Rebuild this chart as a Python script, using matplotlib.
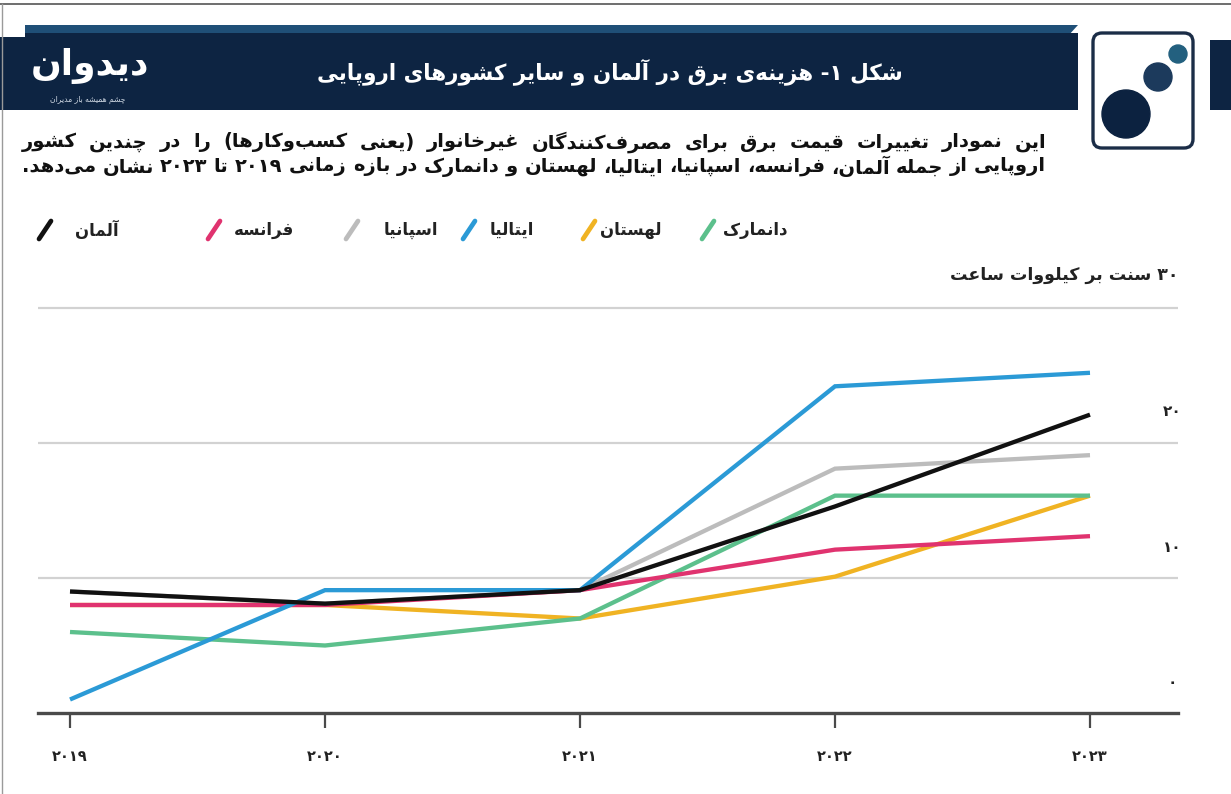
import matplotlib
matplotlib.use('Agg')
import matplotlib.pyplot as plt
import matplotlib.transforms as mtransforms
from matplotlib.patches import Rectangle, FancyBboxPatch, Circle, Polygon
from matplotlib import font_manager
from fontTools.ttLib import TTFont

# ---------------- data ----------------
years = [2019, 2020, 2021, 2022, 2023]
year_labels = ['۲۰۱۹', '۲۰۲۰', '۲۰۲۱', '۲۰۲۲', '۲۰۲۳']
germany = [9.0, 8.1, 9.1, 15.3, 22.1]
france = [8.0, 8.0, 9.1, 12.1, 13.1]
spain = [9.0, 8.1, 9.1, 18.1, 19.1]
italy = [1.0, 9.1, 9.1, 24.2, 25.2]
poland = [8.0, 8.0, 7.0, 10.1, 16.1]
denmark = [6.0, 5.0, 7.0, 16.1, 16.1]
series_names = ['آلمان', 'فرانسه', 'اسپانیا', 'ایتالیا', 'لهستان', 'دانمارک']
series_values = [germany, france, spain, italy, poland, denmark]
series_colors = ['#111111', '#e0336f', '#bcbcbc', '#2b9ad6', '#f0b323', '#5cc08c']
y_ticks = [0, 10, 20, 30]
y_tick_labels = ['۰', '۱۰', '۲۰', '۳۰ سنت بر کیلووات ساعت']

title = 'شکل ۱- هزینه\u200cی برق در آلمان و سایر کشورهای اروپایی'
desc1 = 'این نمودار تغییرات قیمت برق برای مصرف\u200cکنندگان غیرخانوار (یعنی کسب\u200cوکارها) را در چندین کشور'
desc2 = 'اروپایی از جمله آلمان، فرانسه، اسپانیا، ایتالیا، لهستان و دانمارک در بازه زمانی ۲۰۱۹ تا ۲۰۲۳ نشان می\u200cدهد.'
brand = 'دیدوان'
tagline = 'چشم همیشه باز مدیران'

# ---------------- minimal Persian shaping ----------------
def _four(b):
    return (b, b + 1, b + 2, b + 3)

FORMS = {
    '\u0627': (0xFE8D, 0xFE8E, None, None),
    '\u0622': (0xFE81, 0xFE82, None, None),
    '\u0628': _four(0xFE8F), '\u067E': _four(0xFB56), '\u062A': _four(0xFE95),
    '\u062B': _four(0xFE99), '\u062C': _four(0xFE9D), '\u0686': _four(0xFB7A),
    '\u062D': _four(0xFEA1), '\u062E': _four(0xFEA5),
    '\u062F': (0xFEA9, 0xFEAA, None, None), '\u0630': (0xFEAB, 0xFEAC, None, None),
    '\u0631': (0xFEAD, 0xFEAE, None, None), '\u0632': (0xFEAF, 0xFEB0, None, None),
    '\u0698': (0xFB8A, 0xFB8B, None, None),
    '\u0633': _four(0xFEB1), '\u0634': _four(0xFEB5), '\u0635': _four(0xFEB9),
    '\u0636': _four(0xFEBD), '\u0637': _four(0xFEC1), '\u0638': _four(0xFEC5),
    '\u0639': _four(0xFEC9), '\u063A': _four(0xFECD), '\u0641': _four(0xFED1),
    '\u0642': _four(0xFED5), '\u06A9': _four(0xFB8E), '\u06AF': _four(0xFB92),
    '\u0644': _four(0xFEDD), '\u0645': _four(0xFEE1), '\u0646': _four(0xFEE5),
    '\u0647': _four(0xFEE9), '\u0648': (0xFEED, 0xFEEE, None, None),
    '\u06CC': _four(0xFBFC), '\u0626': _four(0xFE89),
}


def _dual(c):
    return c in FORMS and FORMS[c][2] is not None


def shape(word):
    ch = list(word)
    out = []
    i = 0
    n = len(ch)
    while i < n:
        c = ch[i]
        if c not in FORMS:
            if c != '\u200c':
                out.append(c)
            i += 1
            continue
        link_prev = i > 0 and _dual(ch[i - 1])
        if c == '\u0644' and i + 1 < n and ch[i + 1] in ('\u0627', '\u0622'):
            base = 0xFEFB if ch[i + 1] == '\u0627' else 0xFEF5
            out.append(chr(base + (1 if link_prev else 0)))
            i += 2
            continue
        link_next = _dual(c) and i + 1 < n and ch[i + 1] in FORMS
        f = FORMS[c]
        if link_prev and link_next:
            g = f[3]
        elif link_prev:
            g = f[1]
        elif link_next:
            g = f[2]
        else:
            g = f[0]
        out.append(chr(g))
        i += 1
    return out


DIG = set('۰۱۲۳۴۵۶۷۸۹0123456789')
MIRROR = {'(': ')', ')': '('}


def vword(w):
    runs = []
    for c in shape(w):
        if c in DIG and runs and runs[-1][0] == 'd':
            runs[-1][1].append(c)
        elif c in DIG:
            runs.append(['d', [c]])
        else:
            runs.append(['c', [MIRROR.get(c, c)]])
    return ''.join(''.join(r[1]) for r in reversed(runs))


def fa(s):
    return ' '.join(vword(w) for w in reversed(s.split(' ')))


# ---------------- font check ----------------
FAM = 'DejaVu Sans'
path_b = font_manager.findfont(font_manager.FontProperties(family=FAM, weight='bold'))
cmap_b = TTFont(path_b).getBestCmap()
alltext = ''.join(fa(t) for t in [title, desc1, desc2, brand, tagline] + series_names + y_tick_labels + year_labels)
missing = sorted(set(c for c in alltext if ord(c) not in cmap_b and c != ' '))
WEIGHT = 'bold' if not missing else 'normal'

# ---------------- figure ----------------
W, H = 1231, 794
fig = plt.figure(figsize=(W / 100, H / 100), dpi=100)
fig.patch.set_facecolor('white')

# chart axes (pixel geometry)
x_left, x_right = 38, 1178
y_base, y_top = 713, 290
ax = fig.add_axes([x_left / W, (H - y_base) / H, (x_right - x_left) / W, (y_base - y_top) / H])
px_per_year = (1090 - 70) / 4
ax.set_xlim(2019 - (70 - x_left) / px_per_year, 2023 + (x_right - 1090) / px_per_year)
ax.set_ylim(0, (y_base - y_top) / 13.5)

draw_order = [2, 4, 5, 1, 3, 0]
for k in draw_order:
    ax.plot(years, series_values[k], color=series_colors[k], lw=3.1,
            solid_capstyle='butt', solid_joinstyle='miter', zorder=3 + draw_order.index(k))

for s in ['top', 'right', 'left']:
    ax.spines[s].set_visible(False)
ax.spines['bottom'].set_color('#4a4a4a')
ax.spines['bottom'].set_linewidth(2.4)
ax.set_yticks([10, 20, 30])
ax.set_yticklabels([])
ax.tick_params(axis='y', length=0)
ax.grid(axis='y', color='#d2d2d2', lw=1.6)
ax.set_axisbelow(True)
ax.set_xticks(years)
ax.set_xticklabels(year_labels, fontsize=10.5, fontweight=WEIGHT, family=FAM, color='#222222')
ax.tick_params(axis='x', length=11, width=1.6, color='#4a4a4a', pad=15, direction='out')

blend = mtransforms.blended_transform_factory(ax.transAxes, ax.transData)
lab_tr = mtransforms.offset_copy(blend, fig=fig, x=0, y=31, units='dots')
for v, lab in zip(y_ticks, y_tick_labels):
    if v == 30:
        ax.text(1.0, v, fa(lab), transform=mtransforms.offset_copy(blend, fig=fig, x=0, y=33, units='dots'),
                ha='right', va='center', fontsize=12.5, fontweight=WEIGHT, family=FAM, color='#222222')
    else:
        ax.text(0.9947, v, fa(lab), transform=lab_tr, ha='center', va='center',
                fontsize=11, fontweight=WEIGHT, family=FAM, color='#222222')

# overlay axes in pixel coordinates
ov = fig.add_axes([0, 0, 1, 1], zorder=10)
ov.set_xlim(0, W)
ov.set_ylim(H, 0)
ov.axis('off')
ov.patch.set_alpha(0)

# frame lines
ov.plot([0, W], [4, 4], color='#555555', lw=1.2)
ov.plot([2, 2], [4, H], color='#9a9a9a', lw=1.0)

# header band
navy = '#0d2442'
ov.add_patch(Polygon([[25, 25], [1078, 25], [1068, 36], [25, 36]], closed=True, color='#1f4f77', lw=0))
ov.add_patch(Rectangle((0, 33), 1078, 77, color=navy, lw=0))
ov.add_patch(Rectangle((0, 29), 25, 8, color='white', lw=0))
ov.add_patch(Rectangle((1210, 40), 21, 70, color=navy, lw=0))

# logo box
ov.add_patch(FancyBboxPatch((1093, 33), 100, 115, boxstyle='round,pad=0,rounding_size=9',
                            facecolor='white', edgecolor='#1b2d47', lw=2.4))
ov.add_patch(Circle((1126, 114), 24, color='#0c2240'))
ov.add_patch(Circle((1158, 77), 14, color='#1c3a5c'))
ov.add_patch(Circle((1178, 54), 9, color='#23607f'))

# brand & title
ov.text(90, 66, fa(brand), color='white', fontsize=26, fontweight='bold', family=FAM,
        ha='center', va='center')
ov.text(88, 99, fa(tagline), color='#cfd8e3', fontsize=5.5, family=FAM, ha='center', va='center')
ov.text(610, 72, fa(title), color='white', fontsize=15.5, fontweight=WEIGHT, family=FAM,
        ha='center', va='center')

# justified description lines
renderer = fig.canvas.get_renderer()


def justified(line, y, xl, xr, size):
    words = line.split(' ')
    txts = [ov.text(0, y, vword(w), fontsize=size, fontweight=WEIGHT, family=FAM,
                    color='#111111', ha='left', va='center') for w in words]
    widths = [t.get_window_extent(renderer).width for t in txts]
    gap = (xr - xl - sum(widths)) / max(len(words) - 1, 1)
    x = xr
    for t, wd in zip(txts, widths):
        t.set_x(x - wd)
        x -= wd + gap


justified(desc1, 142, 22, 1046, 14)
justified(desc2, 167, 22, 1046, 14)

# legend
legend_text_x = [97, 264, 411, 512, 631, 755]
legend_slash_x = [45, 214, 352, 469, 589, 708]
ly = 230
for name, col, tx, sx in zip(series_names, series_colors, legend_text_x, legend_slash_x):
    ov.plot([sx - 6, sx + 6], [ly + 9, ly - 9], color=col, lw=3.4, solid_capstyle='round')
    ov.text(tx, ly, fa(name), fontsize=12, fontweight=WEIGHT, family=FAM, color='#222222',
            ha='center', va='center')

if missing:
    ov.text(1200, 790, 'missing: ' + ' '.join('%04X' % ord(c) for c in missing), fontsize=6,
            color='red', ha='right', va='bottom')

fig.savefig('out.png', dpi=100)
